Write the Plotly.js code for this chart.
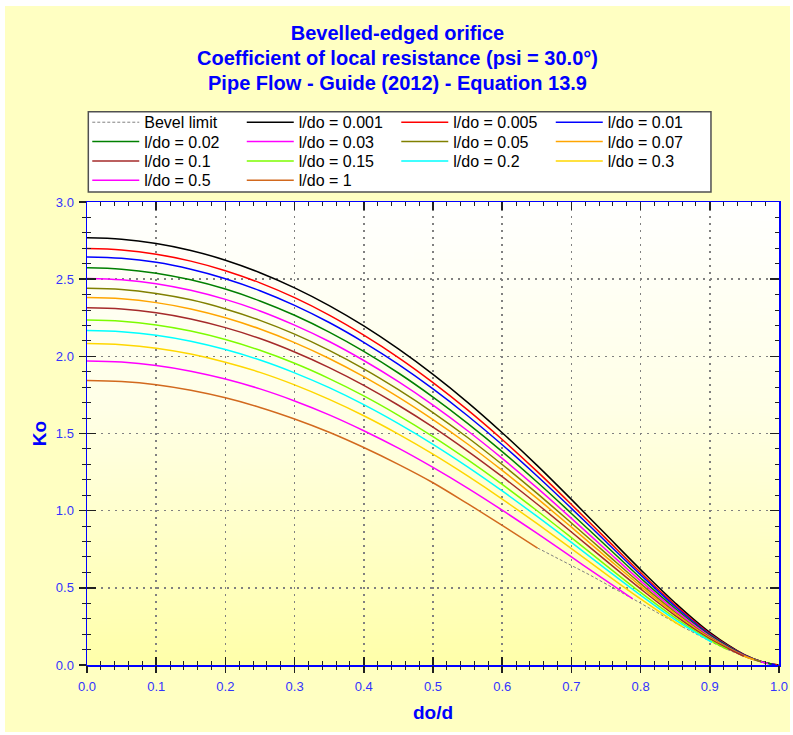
<!DOCTYPE html>
<html>
<head>
<meta charset="utf-8">
<script src="https://cdn.plot.ly/plotly-3.0.1.min.js"></script>
<style>
html,body{margin:0;padding:0;background:#ffffff;width:793px;height:735px;overflow:hidden;}
#chart{position:absolute;left:5px;top:6px;width:785px;height:726px;}
</style>
</head>
<body>
<div id="chart"></div>
<script>
// ---- data ----
const lOverDo = ['0.001','0.005','0.01','0.02','0.03','0.05','0.07','0.1','0.15','0.2','0.3','0.5','1'];
const doOverD = [0, 0.05, 0.1, 0.15, 0.2, 0.25, 0.3, 0.35, 0.4, 0.45, 0.5, 0.55, 0.6, 0.65, 0.7, 0.75, 0.8, 0.85, 0.9, 0.95, 0.975];

const Ko_0_001 = [2.768, 2.759, 2.731, 2.686, 2.623, 2.542, 2.444, 2.329, 2.197, 2.048, 1.883, 1.702, 1.505, 1.295, 1.073, 0.845, 0.618, 0.402, 0.211, 0.067, 0.022];
const Ko_0_005 = [2.698, 2.689, 2.662, 2.617, 2.555, 2.476, 2.380, 2.267, 2.137, 1.992, 1.830, 1.653, 1.461, 1.256, 1.040, 0.819, 0.599, 0.389, 0.204, 0.066, 0.022];
const Ko_0_01  = [2.644, 2.635, 2.609, 2.564, 2.503, 2.425, 2.330, 2.219, 2.091, 1.948, 1.789, 1.615, 1.427, 1.226, 1.015, 0.799, 0.584, 0.379, 0.199, 0.064, 0.021];
const Ko_0_02  = [2.574, 2.565, 2.539, 2.496, 2.436, 2.359, 2.266, 2.157, 2.032, 1.892, 1.736, 1.566, 1.383, 1.187, 0.982, 0.773, 0.564, 0.366, 0.193, 0.062, 0.021];
const Ko_0_03  = [2.505, 2.496, 2.471, 2.428, 2.369, 2.294, 2.202, 2.096, 1.973, 1.836, 1.684, 1.518, 1.339, 1.149, 0.950, 0.747, 0.545, 0.354, 0.186, 0.060, 0.020];
const Ko_0_05  = [2.441, 2.433, 2.407, 2.366, 2.307, 2.233, 2.144, 2.039, 1.919, 1.784, 1.636, 1.474, 1.299, 1.114, 0.920, 0.723, 0.527, 0.342, 0.180, 0.058];
const Ko_0_07  = [2.381, 2.373, 2.348, 2.307, 2.250, 2.177, 2.089, 1.986, 1.868, 1.736, 1.590, 1.432, 1.261, 1.081, 0.893, 0.701, 0.511, 0.332, 0.175, 0.057];
const Ko_0_1   = [2.315, 2.307, 2.282, 2.242, 2.186, 2.115, 2.028, 1.927, 1.812, 1.683, 1.541, 1.386, 1.220, 1.045, 0.862, 0.676, 0.493, 0.320, 0.169];
const Ko_0_15  = [2.235, 2.227, 2.203, 2.164, 2.109, 2.039, 1.955, 1.856, 1.744, 1.618, 1.480, 1.330, 1.170, 1.001, 0.825, 0.646, 0.470, 0.305, 0.161];
const Ko_0_2   = [2.168, 2.160, 2.137, 2.098, 2.044, 1.976, 1.893, 1.797, 1.687, 1.564, 1.430, 1.284, 1.128, 0.964, 0.794, 0.621, 0.452, 0.293];
const Ko_0_3   = [2.083, 2.075, 2.053, 2.015, 1.962, 1.896, 1.815, 1.721, 1.615, 1.496, 1.366, 1.225, 1.075, 0.917, 0.754, 0.589, 0.428, 0.277];
const Ko_0_5   = [1.970, 1.963, 1.941, 1.904, 1.853, 1.789, 1.711, 1.621, 1.518, 1.405, 1.280, 1.146, 1.003, 0.854, 0.700, 0.546];
const Ko_1     = [1.844, 1.837, 1.816, 1.780, 1.731, 1.669, 1.594, 1.508, 1.409, 1.300, 1.181, 1.045, 0.905];

// last point of each curve (where it meets the bevel limit)
const endDoOverD = [0.9995, 0.9973, 0.9947, 0.9894, 0.9842, 0.9739, 0.9638, 0.9491, 0.9256, 0.9032, 0.8615, 0.7887, 0.6511];
const endKo      = [0.000, 0.001, 0.002, 0.006, 0.010, 0.021, 0.034, 0.057, 0.100, 0.147, 0.245, 0.429, 0.758];

// bevel limit (dashed)
const bevelDoOverD = [0.6511, 0.7272, 0.7887, 0.8615, 0.9032, 0.9256, 0.9491, 0.9638, 0.9739, 0.9842, 0.9894, 0.9947, 0.9973, 0.9995, 1.0];
const bevelKo      = [0.758, 0.582, 0.429, 0.245, 0.147, 0.100, 0.057, 0.034, 0.021, 0.010, 0.006, 0.002, 0.001, 0.000, 0.000];

const xTickValues = [0, 0.1, 0.2, 0.3, 0.4, 0.5, 0.6, 0.7, 0.8, 0.9, 1.0];
const yTickValues = [0, 0.5, 1.0, 1.5, 2.0, 2.5, 3.0];

// ---- styles ----
const seriesKo = [Ko_0_001, Ko_0_005, Ko_0_01, Ko_0_02, Ko_0_03, Ko_0_05, Ko_0_07, Ko_0_1, Ko_0_15, Ko_0_2, Ko_0_3, Ko_0_5, Ko_1];
const seriesColors = ['#000000','#FF0000','#0000FF','#008000','#FF00FF','#808000','#FFA500','#A52A2A','#7CFC00','#00FFFF','#FFD700','#FF00FF','#D2691E'];
const legendRow = ['legend','legend','legend','legend2','legend2','legend2','legend2','legend3','legend3','legend3','legend3','legend4','legend4'];
const FONT = 'Liberation Sans, Arial, Helvetica, sans-serif';

const traces = [];
traces.push({
  x: bevelDoOverD, y: bevelKo, mode: 'lines', name: 'Bevel limit',
  line: {color: '#808080', width: 1, dash: '3px,2px'}, legend: 'legend', hoverinfo: 'skip'
});
seriesKo.forEach((k, i) => {
  traces.push({
    x: doOverD.slice(0, k.length).concat([endDoOverD[i]]),
    y: k.concat([endKo[i]]),
    mode: 'lines', name: 'l/do = ' + lOverDo[i],
    line: {color: seriesColors[i], width: 1.5, shape: 'spline', smoothing: 1},
    legend: legendRow[i]
  });
});
// helper trace for the outer tick marks
traces.push({x: [], y: [], xaxis: 'x2', yaxis: 'y2', mode: 'lines', showlegend: false, hoverinfo: 'skip'});

function gradientURL() {
  const c = document.createElement('canvas');
  c.width = 16; c.height = 256;
  const g = c.getContext('2d');
  const gr = g.createLinearGradient(0, 0, 0, 256);
  gr.addColorStop(0, '#FFFFFF');
  gr.addColorStop(0.45, '#FFFFE6');
  gr.addColorStop(1, '#FFFFAA');
  g.fillStyle = gr;
  g.fillRect(0, 0, 16, 256);
  return c.toDataURL('image/png');
}

function legendSpec(yc) {
  return {
    orientation: 'h', xref: 'container', yref: 'container',
    x: 0.1048, xanchor: 'left', y: yc, yanchor: 'middle',
    bgcolor: 'rgba(0,0,0,0)', borderwidth: 0,
    font: {family: FONT, size: 16, color: '#000000'},
    itemwidth: 47, entrywidth: 92.5, traceorder: 'normal'
  };
}

const tickFont = {family: FONT, size: 13, color: '#3333FF'};
const titleSpan = s => '<span style="font-size:20px">' + s + '</span>';

const layout = {
  width: 785, height: 726,
  margin: {l: 82, r: 11, t: 196, b: 67, pad: 0},
  paper_bgcolor: '#FFFFC2',
  plot_bgcolor: 'rgba(0,0,0,0)',
  font: {family: FONT},
  title: {
    text: titleSpan('Bevelled-edged orifice') + '<br>' +
          titleSpan('Coefficient of local resistance (psi = 30.0°)') + '<br>' +
          titleSpan('Pipe Flow - Guide (2012) - Equation 13.9'),
    font: {family: FONT, size: 19, color: '#0000FF', weight: 'bold'},
    xref: 'container', x: 0.5, xanchor: 'center',
    yref: 'container', y: 0.9525, yanchor: 'top'
  },
  xaxis: {
    range: [0, 1], tickvals: xTickValues, tickformat: '.1f',
    ticks: 'inside', ticklen: 8, tickwidth: 1.5, tickcolor: '#202020',
    minor: {dtick: 0.02, ticks: 'inside', ticklen: 4, tickwidth: 1, tickcolor: '#202020', showgrid: false},
    showline: true, linecolor: '#0000FF', linewidth: 1.5, mirror: 'allticks',
    showgrid: true, gridcolor: '#808080', gridwidth: 1.5, griddash: '2px,5px',
    zeroline: false, tickfont: tickFont, ticklabelstandoff: 9,
    title: {text: 'do/d', font: {family: FONT, size: 19, color: '#0000FF', weight: 'bold'}, standoff: 12}
  },
  yaxis: {
    range: [0, 3], tickvals: yTickValues, tickformat: '.1f',
    ticks: 'inside', ticklen: 9, tickwidth: 1.5, tickcolor: '#202020',
    minor: {dtick: 0.1, ticks: 'inside', ticklen: 4, tickwidth: 1, tickcolor: '#202020', showgrid: false},
    showline: true, linecolor: '#0000FF', linewidth: 1.5, mirror: 'allticks',
    showgrid: true, gridcolor: '#808080', gridwidth: 1.5, griddash: '2px,5px',
    zeroline: false, tickfont: tickFont, ticklabelstandoff: 9,
    title: {text: 'Ko', font: {family: FONT, size: 19, color: '#0000FF', weight: 'bold'}, standoff: 4}
  },
  xaxis2: {
    overlaying: 'x', anchor: 'y', side: 'bottom', range: [0, 1],
    tickvals: xTickValues, ticks: 'outside', ticklen: 7, tickwidth: 1.5, tickcolor: '#202020',
    minor: {dtick: 0.02, ticks: 'outside', ticklen: 4, tickwidth: 1, tickcolor: '#202020', showgrid: false},
    showticklabels: false, showgrid: false, showline: false, zeroline: false
  },
  yaxis2: {
    overlaying: 'y', anchor: 'x', side: 'left', range: [0, 3],
    tickvals: yTickValues, ticks: 'outside', ticklen: 7, tickwidth: 1.5, tickcolor: '#202020',
    minor: {dtick: 0.1, ticks: 'outside', ticklen: 4, tickwidth: 1, tickcolor: '#202020', showgrid: false},
    showticklabels: false, showgrid: false, showline: false, zeroline: false
  },
  images: [{
    source: gradientURL(), xref: 'x domain', yref: 'y domain',
    x: 0, y: 1, sizex: 1, sizey: 1, xanchor: 'left', yanchor: 'top',
    sizing: 'stretch', layer: 'below'
  }],
  shapes: [{
    type: 'rect', xref: 'paper', yref: 'paper',
    x0: 0.0019, x1: 0.9017, y0: 1.0216, y1: 1.1948,
    fillcolor: '#FFFFFF', line: {color: '#505050', width: 1.5}, layer: 'below'
  }],
  legend: legendSpec(0.8398),
  legend2: legendSpec(0.8131),
  legend3: legendSpec(0.7865),
  legend4: legendSpec(0.7599),
  showlegend: true
};

Plotly.newPlot('chart', traces, layout, {displayModeBar: false, staticPlot: true});
</script>
</body>
</html>
